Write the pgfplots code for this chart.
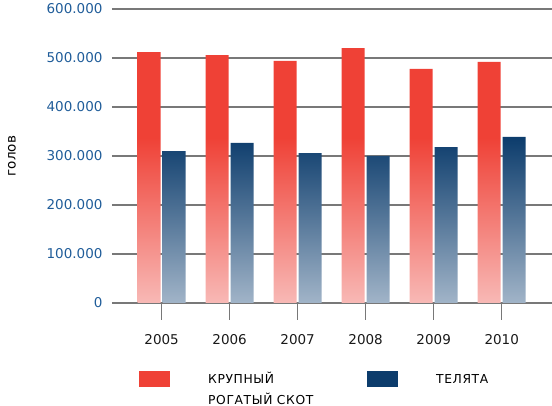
\documentclass[border=0pt]{standalone}
\usepackage{fontspec}
\setmainfont{DejaVu Sans}
\newfontfamily\legendfont[LetterSpace=5]{DejaVu Sans}
\usepackage{pgfplots}
\pgfplotsset{compat=1.18}
\definecolor{cred}{RGB}{239,65,54}
\definecolor{cpink}{RGB}{248,185,182}
\definecolor{cblue}{RGB}{12,60,108}
\definecolor{clblue}{RGB}{161,180,200}
\definecolor{ctick}{RGB}{31,92,153}
\definecolor{cgrid}{RGB}{120,120,120}
\pgfdeclareverticalshading{redbar}{100bp}{color(0bp)=(cpink); color(25bp)=(cpink); color(57.5bp)=(cred); color(100bp)=(cred)}
\pgfdeclareverticalshading{bluebar}{100bp}{color(0bp)=(clblue); color(25bp)=(clblue); color(75bp)=(cblue); color(100bp)=(cblue)}
\begin{document}
\begin{tikzpicture}
\useasboundingbox (-112pt,-103pt) rectangle (440pt,303pt);
\begin{axis}[
  scale only axis, width=440pt, height=294pt,
  xmin=-0.73, xmax=5.74, ymin=0, ymax=600000,
  xtick={0,1,2,3,4,5},
  xticklabels={2005,2006,2007,2008,2009,2010},
  ytick={0,100000,200000,300000,400000,500000,600000},
  yticklabels={0,100.000,200.000,300.000,400.000,500.000,600.000},
  scaled y ticks=false,
  axis line style={draw=none},
  ymajorgrids, grid style={draw=cgrid, line width=1.4pt},
  tick align=outside, major tick length=17pt,
  xtick pos=left,
  xtick style={draw=cgrid, line width=1.3pt},
  ytick style={draw=none},
  ticklabel style={font=\fontsize{13.5}{16}\selectfont},
  yticklabel style={text=ctick, xshift=11pt},
  xticklabel style={text=black!90, yshift=-11pt},
  ylabel={голов},
  every axis y label/.style={at={(axis description cs:0,0.5)}, xshift=-100pt, rotate=90, anchor=center, font=\fontsize{13.5}{16}\selectfont},
  ybar, bar width=23pt,
  legend style={draw=none, fill=none, at={(27pt,-65.5pt)}, anchor=north west, inner sep=0pt,
    legend columns=2, nodes={inner sep=0pt, anchor=base west},
    /tikz/every odd column/.append style={column sep=38pt}},
  legend cell align=left,
]
\addplot[draw=none, shading=redbar, bar shift=-12.5pt,
  legend image code/.code={\pgfsetfillcolor{cred}\pgfpathrectangle{\pgfpoint{0pt}{-3.5pt}}{\pgfpoint{31pt}{16pt}}\pgfusepath{fill}}]
  coordinates {(0,512000) (1,506000) (2,494000) (3,520000) (4,478000) (5,492000)};
\addlegendentry{\makebox[159pt][l]{\legendfont\fontsize{12.3}{21}\selectfont\begin{tabular}[t]{@{}l@{}}КРУПНЫЙ\\РОГАТЫЙ СКОТ\end{tabular}}}
\addplot[draw=none, shading=bluebar, bar shift=12.5pt,
  legend image code/.code={\pgfsetfillcolor{cblue}\pgfpathrectangle{\pgfpoint{0pt}{-3.5pt}}{\pgfpoint{31pt}{16pt}}\pgfusepath{fill}}]
  coordinates {(0,310000) (1,327000) (2,306000) (3,300000) (4,318000) (5,339000)};
\addlegendentry{\legendfont\fontsize{12.3}{21}\selectfont ТЕЛЯТА}
\end{axis}
\end{tikzpicture}
\end{document}
